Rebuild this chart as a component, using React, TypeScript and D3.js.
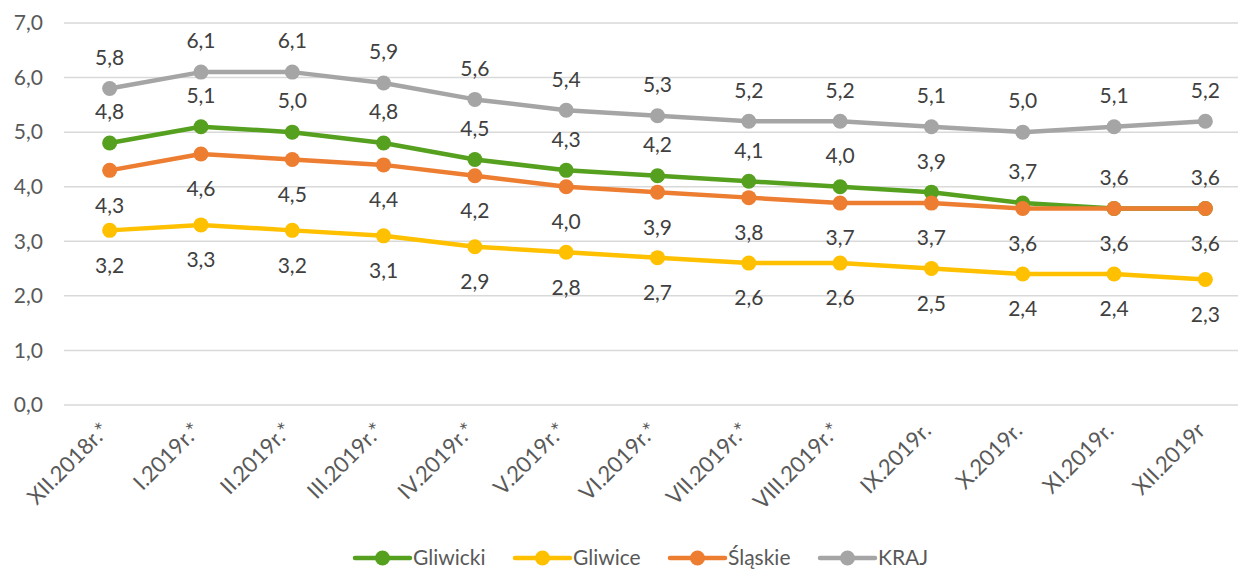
import React from "react";
import * as d3 from "d3";

const categories = ["XII.2018r.*", "I.2019r.*", "II.2019r.*", "III.2019r.*", "IV.2019r.*", "V.2019r.*", "VI.2019r.*", "VII.2019r.*", "VIII.2019r.*", "IX.2019r.", "X.2019r.", "XI.2019r.", "XII.2019r"];
const gliwicki = [4.8, 5.1, 5.0, 4.8, 4.5, 4.3, 4.2, 4.1, 4.0, 3.9, 3.7, 3.6, 3.6];
const gliwice = [3.2, 3.3, 3.2, 3.1, 2.9, 2.8, 2.7, 2.6, 2.6, 2.5, 2.4, 2.4, 2.3];
const slaskie = [4.3, 4.6, 4.5, 4.4, 4.2, 4.0, 3.9, 3.8, 3.7, 3.7, 3.6, 3.6, 3.6];
const kraj = [5.8, 6.1, 6.1, 5.9, 5.6, 5.4, 5.3, 5.2, 5.2, 5.1, 5.0, 5.1, 5.2];
const yTicks = [0, 1, 2, 3, 4, 5, 6, 7];

const series = [
  { name: "Gliwicki", values: gliwicki, color: "#56A01F", above: true },
  { name: "Gliwice", values: gliwice, color: "#FFC000", above: false },
  { name: "Śląskie", values: slaskie, color: "#ED7D31", above: false },
  { name: "KRAJ", values: kraj, color: "#A5A5A5", above: true },
];
const legendX = [355, 515, 670, 820];

const W = 1238;
const H = 570;
const FONT = "Lato, 'Open Sans', sans-serif";
const fmt = (v: number) => v.toFixed(1).replace(".", ",");

export default function App() {
  const x = d3.scaleBand<string>().domain(categories).range([64, 1251]);
  const y = d3.scaleLinear().domain([0, 7]).range([405, 23]);
  const cx = (c: string) => (x(c) as number) + x.bandwidth() / 2;
  const line = d3.line<number>().x((_, i) => cx(categories[i])).y((d) => y(d));

  return (
    <svg width={W} height={H} style={{ position: "absolute", left: 0, top: 0, background: "#fff" }} fontFamily={FONT}>
      {yTicks.map((t) => (
        <g key={t}>
          <line x1={64} x2={W} y1={y(t)} y2={y(t)} stroke="#D9D9D9" strokeWidth={1.5} />
          <text x={43} y={y(t)} dy="0.35em" textAnchor="end" fontSize={21} fill="#595959">
            {fmt(t)}
          </text>
        </g>
      ))}
      {categories.map((c) => (
        <text
          key={c}
          transform={`translate(${cx(c) + 1},${432}) rotate(-45)`}
          textAnchor="end"
          fontSize={22}
          fill="#595959"
        >
          {c}
        </text>
      ))}
      {series.map((s) => (
        <g key={s.name}>
          <path d={line(s.values) as string} fill="none" stroke={s.color} strokeWidth={4.5} strokeLinejoin="round" strokeLinecap="round" />
          {s.values.map((v, i) => (
            <circle key={i} cx={cx(categories[i])} cy={y(v)} r={7.5} fill={s.color} />
          ))}
        </g>
      ))}
      {series.map((s) =>
        s.values.map((v, i) => (
          <text
            key={s.name + i}
            x={cx(categories[i])}
            y={y(v) + (s.above ? -31 : 35)}
            dy="0.35em"
            textAnchor="middle"
            fontSize={21}
            fill="#404040"
          >
            {fmt(v)}
          </text>
        ))
      )}
      {series.map((s, k) => {
        const lx = legendX[k];
        return (
          <g key={s.name}>
            <line x1={lx} x2={lx + 55} y1={558} y2={558} stroke={s.color} strokeWidth={4.5} strokeLinecap="round" />
            <circle cx={lx + 27.5} cy={558} r={7.5} fill={s.color} />
            <text x={lx + 58} y={558} dy="0.35em" fontSize={21} fill="#595959">
              {s.name}
            </text>
          </g>
        );
      })}
    </svg>
  );
}
